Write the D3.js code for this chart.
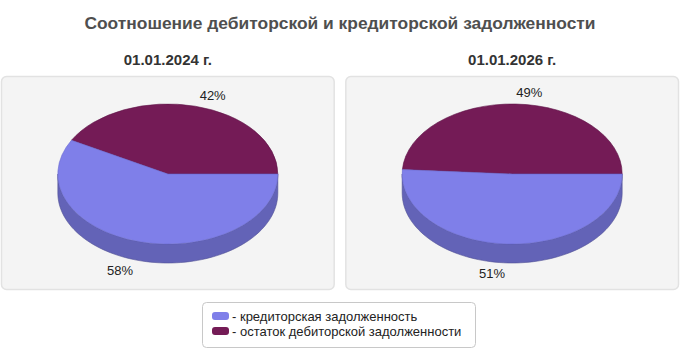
<!DOCTYPE html>
<html><head><meta charset="utf-8">
<script src="https://cdn.jsdelivr.net/npm/d3@7"></script>
<style>body{margin:0;background:#fff}svg{display:block}text{font-family:"Liberation Sans",Arial,sans-serif}</style>
</head><body>
<svg id="c" width="680" height="350"></svg>
<script>
const title = "Соотношение дебиторской и кредиторской задолженности";
const periods = ["01.01.2024 г.", "01.01.2026 г."];
const seriesNames = ["остаток дебиторской задолженности", "кредиторская задолженность"];
const debitorValues = [42, 49];
const creditorValues = [58, 51];
const legendOrder = [1, 0];
const topColors = ["#741b56", "#7f7fe9"];
const sideColors = ["#5a1444", "#6363b7"];
const edgeColors = ["#5e1346", "#6a6ad0"];

const svg = d3.select("#c");
svg.append("text").attr("x", 340).attr("y", 29).attr("text-anchor", "middle")
  .attr("font-size", 17.4).attr("font-weight", "bold").attr("fill", "#4f4f4f").text(title);

const panelX = d3.scaleBand().domain(periods).range([1, 679]).paddingInner(0.031);
const rx = 110, ry = 70, depth = 19, cyPie = 174;
const pie = d3.pie().sort(null).startAngle(0).endAngle(2 * Math.PI);

function pt(cx, cy, t) { return [cx + rx * Math.cos(t), cy - ry * Math.sin(t)]; }

periods.forEach((p, i) => {
  const x0 = panelX(p), w = panelX.bandwidth(), cx = x0 + w / 2;
  svg.append("rect").attr("x", x0 + 0.5).attr("y", 76.5).attr("width", w - 1).attr("height", 213)
    .attr("rx", 5).attr("fill", "#f4f4f4").attr("stroke", "#e2e2e2").attr("stroke-width", 1.5);
  svg.append("text").attr("x", cx).attr("y", 65).attr("text-anchor", "middle")
    .attr("font-size", 15).attr("font-weight", "bold").attr("fill", "#333").text(p);

  const vals = [debitorValues[i], creditorValues[i]];
  const arcs = pie(vals);
  const g = svg.append("g");
  arcs.forEach((a, k) => {
    const s = Math.max(a.startAngle, Math.PI), e = Math.min(a.endAngle, 2 * Math.PI);
    if (e <= s) return;
    const path = d3.path();
    const p1 = pt(cx, cyPie, s);
    path.moveTo(p1[0], p1[1]);
    const n = 80;
    for (let j = 1; j <= n; j++) { const q = pt(cx, cyPie, s + (e - s) * j / n); path.lineTo(q[0], q[1]); }
    for (let j = n; j >= 0; j--) { const q = pt(cx, cyPie, s + (e - s) * j / n); path.lineTo(q[0], q[1] + depth); }
    path.closePath();
    g.append("path").attr("d", path.toString()).attr("fill", sideColors[k])
      .attr("stroke", d3.color(sideColors[k]).darker(0.6)).attr("stroke-width", 0.6);
  });
  arcs.forEach((a, k) => {
    const p1 = pt(cx, cyPie, a.startAngle), p2 = pt(cx, cyPie, a.endAngle);
    const large = (a.endAngle - a.startAngle) > Math.PI ? 1 : 0;
    const d = `M${cx},${cyPie}L${p1[0]},${p1[1]}A${rx},${ry} 0 ${large} 0 ${p2[0]},${p2[1]}Z`;
    g.append("path").attr("d", d).attr("fill", topColors[k])
      .attr("stroke", edgeColors[k]).attr("stroke-width", 0.6);
  });
  arcs.forEach((a, k) => {
    const m = (a.startAngle + a.endAngle) / 2;
    const c = Math.cos(m), s = Math.sin(m);
    const lx = cx + c * 128 + (c >= 0 ? 0 : -3);
    const ly = cyPie - s * 81 + (s < 0 ? depth : 0) + 4;
    svg.append("text").attr("x", lx).attr("y", ly)
      .attr("text-anchor", c >= 0 ? "start" : "end")
      .attr("font-size", 13).attr("fill", "#222").text(a.data + "%");
  });
});

const lg = svg.append("g");
lg.append("rect").attr("x", 202.5).attr("y", 302.5).attr("width", 273).attr("height", 45)
  .attr("rx", 4).attr("fill", "#fff").attr("stroke", "#c8c8c8");
legendOrder.forEach((k, j) => {
  const y = 316 + j * 15;
  lg.append("rect").attr("x", 212).attr("y", y - 4).attr("width", 17).attr("height", 8)
    .attr("rx", 3).attr("fill", topColors[k]);
  lg.append("text").attr("x", 232).attr("y", y + 4.5).attr("font-size", 13).attr("fill", "#222")
    .text("- " + seriesNames[k]);
});
</script>
</body></html>
